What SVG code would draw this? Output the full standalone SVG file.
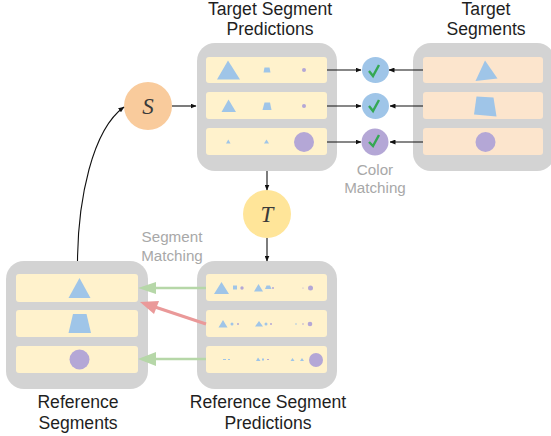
<svg xmlns="http://www.w3.org/2000/svg" width="551" height="436" viewBox="0 0 551 436">
<style>
.lbl{font-family:"Liberation Sans",Arial,sans-serif;font-size:17.600px;fill:#1f1f1f;text-anchor:middle}
.gl{font-family:"Liberation Sans",Arial,sans-serif;font-size:15.200px;fill:#a8a8a8;text-anchor:middle}
.var{font-family:"Liberation Serif","Times New Roman",serif;font-style:italic;font-size:23px;fill:#3a3a3a;text-anchor:middle}
.panel{fill:#d3d3d3}
.y{fill:#fff2cc}
.o{fill:#fce5cd}
.b{fill:#9fc5e8}
.p{fill:#b4a7d6}
.c{fill:none;stroke:#111;stroke-width:1.100}
.g{fill:none;stroke:#b6d7a8;stroke-width:2.600}
.r{fill:none;stroke:#ea9999;stroke-width:3}
.chk{fill:none;stroke:#34a853;stroke-width:2.400}
</style>
<defs>
<marker id="a" markerWidth="6" markerHeight="5" refX="5.500" refY="2.500" orient="auto" markerUnits="userSpaceOnUse"><path d="M0 0L6 2.500L0 5z" fill="#111"/></marker>
</defs>
<g id="target-predictions">
<rect class="panel" x="197" y="43" width="140" height="128" rx="18"/>
<rect class="y" x="206" y="57" width="121" height="26" rx="3"/>
<rect class="y" x="206" y="92" width="121" height="27" rx="3"/>
<rect class="y" x="206" y="128" width="121" height="27" rx="3"/>
<path class="b" d="M228 60.500L240 79.500H217z"/><path class="b" d="M264.500 67.500H269.500L270.500 72.500H263.500z"/><circle class="p" cx="304" cy="70" r="2"/>
<path class="b" d="M228.500 99.500L236 112H221.500z"/><path class="b" d="M264.500 102.500H270L271.500 110H262.500z"/><circle class="p" cx="304" cy="106" r="2"/>
<path class="b" d="M228.300 139.500L230.500 143.500H226z"/><path class="b" d="M266.500 139.500L269 143.500H264z"/><circle class="p" cx="304" cy="142" r="10"/>
<text class="lbl" x="270" y="15">Target Segment</text><text class="lbl" x="270" y="35">Predictions</text>
</g>
<g id="target-segments">
<rect class="panel" x="413" y="43" width="142" height="128" rx="18"/>
<rect class="o" x="423" y="57" width="120" height="26" rx="3"/>
<rect class="o" x="423" y="92" width="120" height="27" rx="3"/>
<rect class="o" x="423" y="128" width="120" height="27" rx="3"/>
<path class="b" d="M485 60.500L497.500 78.500L475.500 81z"/>
<path class="b" d="M476.500 96.500L493.500 97.500L496.500 116.500L474 114.500z"/>
<circle class="p" cx="485.500" cy="142" r="10"/>
<text class="lbl" x="486" y="15">Target</text><text class="lbl" x="486" y="35">Segments</text>
</g>
<g id="reference-predictions">
<rect class="panel" x="197" y="261" width="140" height="128" rx="18"/>
<rect class="y" x="206" y="274" width="121" height="27" rx="3"/>
<rect class="y" x="206" y="310" width="121" height="27" rx="3"/>
<rect class="y" x="206" y="346" width="121" height="27" rx="3"/>
<path class="b" d="M221.500 282L229 294H214z"/><rect class="b" x="233" y="285.500" width="4" height="4"/><circle class="p" cx="242" cy="288" r="1.700"/>
<path class="b" d="M258.500 284L263 291.500H254z"/><path class="b" d="M266.500 285.500H270L271.500 289H265z"/><circle class="p" cx="273" cy="288" r="1"/><circle class="p" cx="303" cy="288" r=".6"/><circle class="p" cx="310.500" cy="288" r="2.500"/>
<path class="b" d="M223 320L227.500 327.500H218.500z"/><circle class="b" cx="232" cy="324" r="1.500"/><circle class="p" cx="238" cy="324" r="1"/>
<path class="b" d="M259 321L263 326.500H255z"/><circle class="b" cx="266" cy="324" r="1.500"/><circle class="p" cx="271" cy="324" r="1"/><circle class="b" cx="296" cy="324" r=".8"/><circle class="p" cx="303" cy="324" r=".8"/><circle class="p" cx="310" cy="324" r="2.300"/>
<rect class="b" x="223" y="359" width="3" height="1"/><rect class="b" x="228" y="359" width="2" height="1"/>
<path class="b" d="M258 357.500L260.500 361H256z"/><rect class="b" x="262" y="358.500" width="2" height="2"/><rect class="p" x="267" y="359" width="2" height="1"/>
<path class="b" d="M292.500 358L294.500 361H290.500z"/><path class="b" d="M302 358L304 361H300z"/><circle class="p" cx="316" cy="360" r="7"/>
<text class="lbl" x="268" y="408">Reference Segment</text><text class="lbl" x="268" y="429">Predictions</text>
</g>
<g id="reference-segments">
<rect class="panel" x="6" y="261" width="142" height="128" rx="18"/>
<rect class="y" x="16" y="274" width="122" height="28" rx="3"/>
<rect class="y" x="16" y="310" width="122" height="27" rx="3"/>
<rect class="y" x="16" y="346" width="122" height="27" rx="3"/>
<path class="b" d="M79.500 278L90.500 298H68.500z"/>
<path class="b" d="M73 314H86.500L91 333H68.500z"/>
<circle class="p" cx="79.500" cy="359.500" r="10"/>
<text class="lbl" x="78" y="408">Reference</text><text class="lbl" x="78" y="429">Segments</text>
</g>
<g id="node-s"><circle cx="148" cy="106" r="24" fill="#f9cb9c"/><text class="var" x="148" y="114">S</text></g>
<g id="node-t"><circle cx="267" cy="214" r="24" fill="#ffe599"/><text class="var" x="267" y="222">T</text></g>
<g id="match-1"><ellipse class="b" cx="375.500" cy="70" rx="13.500" ry="13"/><path class="chk" d="M369 71L373 76L379 65"/></g>
<g id="match-2"><ellipse class="b" cx="375.500" cy="106" rx="13.500" ry="13"/><path class="chk" d="M369 106L373 111L379 100"/></g>
<g id="match-3"><ellipse class="p" cx="375" cy="142" rx="13.500" ry="13.500"/><path class="chk" d="M369 142L373 146L379 135"/></g>
<g id="connectors">
<path class="c" d="M172 106H196" marker-end="url(#a)"/>
<path class="c" d="M77.500 261C78 200 92 130 124 107" marker-end="url(#a)"/>
<path class="c" d="M267 171V190" marker-end="url(#a)"/>
<path class="c" d="M267 238V261" marker-end="url(#a)"/>
<path class="c" d="M327 70H361" marker-end="url(#a)"/>
<path class="c" d="M327 106H361" marker-end="url(#a)"/>
<path class="c" d="M327 142H361" marker-end="url(#a)"/>
<path class="c" d="M423 70H389" marker-end="url(#a)"/>
<path class="c" d="M423 106H390" marker-end="url(#a)"/>
<path class="c" d="M423 142H390" marker-end="url(#a)"/>
<path class="g" d="M206 288H155"/><path fill="#b6d7a8" d="M138 288L156 282V294z"/>
<path class="g" d="M206 359H155"/><path fill="#b6d7a8" d="M138 359L156 352V366z"/>
<path class="r" d="M206 324L155 307"/><path fill="#ea9999" d="M140 302L159 301L154 314z"/>
</g>
<text class="gl" x="172" y="242">Segment</text><text class="gl" x="172" y="261">Matching</text>
<text class="gl" x="375" y="175">Color</text><text class="gl" x="375" y="193">Matching</text>
</svg>
